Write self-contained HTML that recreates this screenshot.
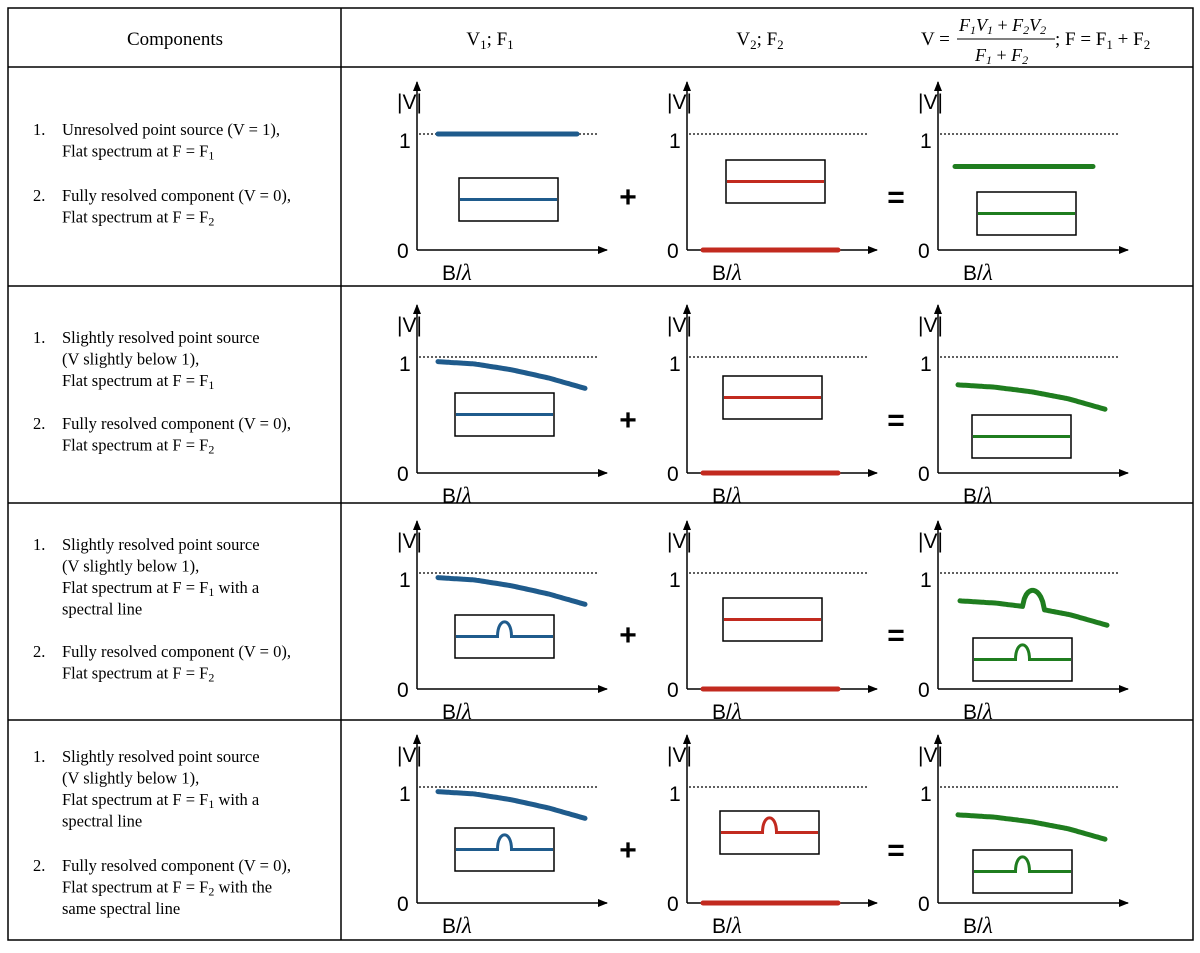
<!DOCTYPE html>
<html><head><meta charset="utf-8"><style>
body{margin:0;background:#fff;}
svg{display:block;}
.t{font-family:"Liberation Serif",serif;fill:#000;}
.a{font-family:"Liberation Sans",sans-serif;font-size:21px;fill:#000;}
</style></head><body>
<svg id="fig" width="1200" height="953" viewBox="0 0 1200 953" xmlns="http://www.w3.org/2000/svg">
<defs>
<marker id="arr" markerWidth="10" markerHeight="8" refX="9" refY="4" orient="auto" markerUnits="userSpaceOnUse"><path d="M0,0 L10,4 L0,8 z" fill="#000"/></marker>
</defs>
<g stroke="#000" stroke-width="1.5" fill="none">
<rect x="8" y="8" width="1185" height="932"/>
<line x1="341" y1="8" x2="341" y2="940"/>
<line x1="8" y1="67" x2="1193" y2="67"/>
<line x1="8" y1="286" x2="1193" y2="286"/>
<line x1="8" y1="503" x2="1193" y2="503"/>
<line x1="8" y1="720" x2="1193" y2="720"/>
</g>
<g>
<text class="t" x="175" y="45" text-anchor="middle" style="font-size:19px">Components</text>
<text class="t" x="490" y="45" text-anchor="middle" style="font-size:19px">V<tspan style="font-size:13px" dy="4">1</tspan><tspan dy="-4">; F</tspan><tspan style="font-size:13px" dy="4">1</tspan></text>
<text class="t" x="760" y="45" text-anchor="middle" style="font-size:19px">V<tspan style="font-size:13px" dy="4">2</tspan><tspan dy="-4">; F</tspan><tspan style="font-size:13px" dy="4">2</tspan></text>
<g>
<text class="t" x="921" y="45" style="font-size:19px">V =</text>
<text class="t" x="959" y="31" style="font-size:18px;font-style:italic">F<tspan style="font-size:12px" dy="3">1</tspan><tspan dy="-3">V</tspan><tspan style="font-size:12px" dy="3">1</tspan><tspan dy="-3" style="font-style:normal"> + </tspan><tspan>F</tspan><tspan style="font-size:12px" dy="3">2</tspan><tspan dy="-3">V</tspan><tspan style="font-size:12px" dy="3">2</tspan></text>
<line x1="957" y1="39" x2="1055" y2="39" stroke="#000" stroke-width="1"/>
<text class="t" x="975" y="61" style="font-size:18px;font-style:italic">F<tspan style="font-size:12px" dy="3">1</tspan><tspan dy="-3" style="font-style:normal"> + </tspan><tspan>F</tspan><tspan style="font-size:12px" dy="3">2</tspan></text>
<text class="t" x="1055" y="45" style="font-size:19px">; F = F<tspan style="font-size:13px" dy="4">1</tspan><tspan dy="-4"> + F</tspan><tspan style="font-size:13px" dy="4">2</tspan></text>
</g>
</g>
<g id="left"></g>
<g id="panels"></g>
</svg>
<script>
// ---- data ----
// visibility curve samples across B/lambda (u from 0 to 1)
const uGrid = [0, 0.25, 0.5, 0.75, 1];
const flatOne = [1, 1, 1, 1, 1];
const flatZero = [0, 0, 0, 0, 0];
const flatSum = [0.72, 0.72, 0.72, 0.72, 0.72];
const resolved1 = [0.96, 0.94, 0.89, 0.82, 0.73];
const resolvedSum = [0.76, 0.74, 0.70, 0.64, 0.55];
// spectral line bump in visibility (position in u, height in V)
const bumpU = [0.5];
const bumpV = [0.15];
// inset spectrum: flux level (fraction of box height from bottom) and line bump
const insetLevel = [0.5];
const insetLine = [0.35];

const NS = "http://www.w3.org/2000/svg";
const root = document.getElementById('panels');
const left = document.getElementById('left');
const BLUE = '#1f5b8c', RED = '#c22a1f', GREEN = '#1f7d1f';

function mk(tag, attrs, parent) {
  const e = document.createElementNS(NS, tag);
  for (const k in attrs) e.setAttribute(k, attrs[k]);
  parent.appendChild(e);
  return e;
}
function yScale(oy, v) { return oy - 116 * v; }
function xScale(ox, x0, x1, u) { return ox + x0 + (x1 - x0) * u; }

function curvePath(ox, oy, x0, x1, vals, bump) {
  let pts = [];
  const N = 80;
  for (let i = 0; i <= N; i++) {
    const u = i / N;
    let k = Math.min(uGrid.length - 2, Math.floor(u * (uGrid.length - 1)));
    const t = (u - uGrid[k]) / (uGrid[k + 1] - uGrid[k]);
    let v = vals[k] + (vals[k + 1] - vals[k]) * t;
    if (bump) {
      const d = (u - bumpU[0]) / 0.07;
      if (Math.abs(d) < 1) v += bumpV[0] * Math.sqrt(1 - d * d);
    }
    pts.push(xScale(ox, x0, x1, u).toFixed(1) + ',' + yScale(oy, v).toFixed(1));
  }
  return 'M' + pts.join(' L');
}

function panel(ox, oy, color, vals, x0, x1, bump, box, insetBump, idx) {
  const g = mk('g', {}, root);
  
  
  const ya = mk('line', {x1: ox, y1: oy, x2: ox, y2: oy - 168, stroke: '#000', 'stroke-width': 1.5, 'marker-end': 'url(#arr)'}, g);
  
  
  const xa = mk('line', {x1: ox, y1: oy, x2: ox + 190, y2: oy, stroke: '#000', 'stroke-width': 1.5, 'marker-end': 'url(#arr)'}, g);
  
  
  const dl = mk('line', {x1: ox + 2, y1: yScale(oy, 1), x2: ox + 180, y2: yScale(oy, 1), stroke: '#000', 'stroke-width': 1.3, 'stroke-dasharray': '2,2'}, g);
  
  
  const t1 = mk('text', {class: 'a', x: ox - 20, y: oy - 141}, g); t1.textContent = '|V|';
  
  
  const t2 = mk('text', {class: 'a', x: ox - 18, y: yScale(oy, 1) + 14}, g); t2.textContent = '1';
  
  
  const t3 = mk('text', {class: 'a', x: ox - 20, y: oy + 8}, g); t3.textContent = '0';
  
  
  const t4 = mk('text', {class: 'a', x: ox + 25, y: oy + 30}, g); t4.innerHTML = 'B/<tspan style="font-family:Liberation Serif;font-style:italic;font-size:23px">λ</tspan>';
  
  
  const c = mk('path', {d: curvePath(ox, oy, x0, x1, vals, bump), fill: 'none', stroke: color, 'stroke-width': 5, 'stroke-linecap': 'round', 'stroke-linejoin': 'round'}, g);
  
  
  const [bx, by] = box; const bw = 99, bh = 43;
  const r = mk('rect', {x: ox + bx, y: by, width: bw, height: bh, fill: '#fff', stroke: '#000', 'stroke-width': 1.5}, g);
  
  
  const ly = by + bh * (1 - insetLevel[0]);
  let d = 'M' + (ox + bx + 1) + ',' + ly;
  if (insetBump) {
    const cx = ox + bx + bw * 0.5, w = 7, hgt = bh * insetLine[0];
    d += ' L' + (cx - w) + ',' + ly + ' C' + (cx - w) + ',' + (ly - hgt * 1.3) + ' ' + (cx + w) + ',' + (ly - hgt * 1.3) + ' ' + (cx + w) + ',' + ly;
  }
  d += ' L' + (ox + bx + bw - 1) + ',' + ly;
  const sp = mk('path', {d: d, fill: 'none', stroke: color, 'stroke-width': 3}, g);
  
  
}

function op(x, y, s, idx) {
  const t = mk('text', {x: x, y: y, 'font-family': 'Liberation Sans, sans-serif', 'font-size': 30, 'font-weight': 'bold', 'text-anchor': 'middle'}, root);
  t.textContent = s;
  
  
}

const rowsOy = [250, 473, 689, 903];
const pxs = [417, 687, 938];
panel(pxs[0], rowsOy[0], BLUE, flatOne, 21, 160, false, [42, 178], false, '1-1');
panel(pxs[1], rowsOy[0], RED, flatZero, 16, 151, false, [39, 160], false, '1-2');
panel(pxs[2], rowsOy[0], GREEN, flatSum, 17, 155, false, [39, 192], false, '1-3');
panel(pxs[0], rowsOy[1], BLUE, resolved1, 21, 168, false, [38, 393], false, '2-1');
panel(pxs[1], rowsOy[1], RED, flatZero, 16, 151, false, [36, 376], false, '2-2');
panel(pxs[2], rowsOy[1], GREEN, resolvedSum, 20, 167, false, [34, 415], false, '2-3');
panel(pxs[0], rowsOy[2], BLUE, resolved1, 21, 168, false, [38, 615], true, '3-1');
panel(pxs[1], rowsOy[2], RED, flatZero, 16, 151, false, [36, 598], false, '3-2');
panel(pxs[2], rowsOy[2], GREEN, resolvedSum, 22, 169, true, [35, 638], true, '3-3');
panel(pxs[0], rowsOy[3], BLUE, resolved1, 21, 168, false, [38, 828], true, '4-1');
panel(pxs[1], rowsOy[3], RED, flatZero, 16, 151, false, [33, 811], true, '4-2');
panel(pxs[2], rowsOy[3], GREEN, resolvedSum, 20, 167, false, [35, 850], true, '4-3');
op(628, 207, '+', 1); op(896, 207, '=', 1);
op(628, 430, '+', 2); op(896, 430, '=', 2);
op(628, 645, '+', 3); op(896, 645, '=', 3);
op(628, 860, '+', 4); op(896, 860, '=', 4);

const sub = n => '<tspan style="font-size:12px" dy="3">' + n + '</tspan><tspan dy="-3">';
const rowsText = [
  [[135, '1.', ['Unresolved point source (V = 1),', 'Flat spectrum at F = F' + sub(1) + '</tspan>']],
   [201, '2.', ['Fully resolved component (V = 0),', 'Flat spectrum at F = F' + sub(2) + '</tspan>']]],
  [[343, '1.', ['Slightly resolved point source', '(V slightly below 1),', 'Flat spectrum at F = F' + sub(1) + '</tspan>']],
   [429, '2.', ['Fully resolved component (V = 0),', 'Flat spectrum at F = F' + sub(2) + '</tspan>']]],
  [[550, '1.', ['Slightly resolved point source', '(V slightly below 1),', 'Flat spectrum at F = F' + sub(1) + ' with a</tspan>', 'spectral line']],
   [657, '2.', ['Fully resolved component (V = 0),', 'Flat spectrum at F = F' + sub(2) + '</tspan>']]],
  [[762, '1.', ['Slightly resolved point source', '(V slightly below 1),', 'Flat spectrum at F = F' + sub(1) + ' with a</tspan>', 'spectral line']],
   [871, '2.', ['Fully resolved component (V = 0),', 'Flat spectrum at F = F' + sub(2) + ' with the</tspan>', 'same spectral line']]]
];
rowsText.forEach((row) => {
  row.forEach(item => {
    const [y0, num, lines] = item;
    const n = mk('text', {class: 't', x: 33, y: y0, style: 'font-size:16.5px'}, left);
    n.textContent = num;
    
    
    lines.forEach((ln, li) => {
      const t = mk('text', {class: 't', x: 62, y: y0 + li * 21.5, style: 'font-size:16.5px'}, left);
      t.innerHTML = ln;
      
      
    });
  });
});
</script>
</body></html>
